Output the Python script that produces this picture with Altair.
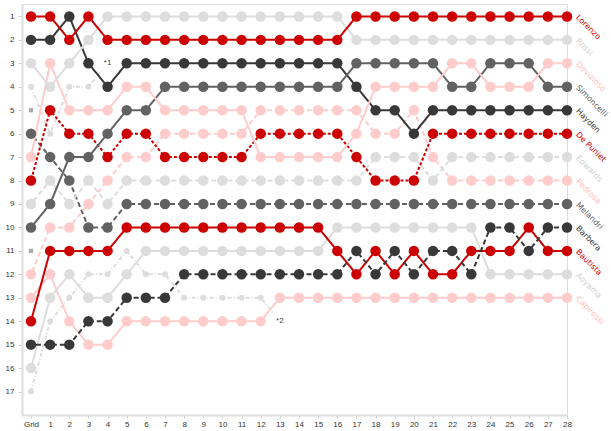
import altair as alt
import pandas as pd

# ---------------- data ----------------
lap_ticks = list(range(0, 29))          # 0 = "Grid"
pos_ticks = list(range(1, 18))

riders = ["Lorenzo", "Rossi", "Dovizioso", "Simoncelli", "Hayden",
          "De Puniet", "Edwards", "Pedrosa", "Melandri", "Barbera",
          "Bautista", "Aoyama", "Capirossi"]

lorenzo    = [1, 1, 2, 1, 2, 2, 2, 2, 2, 2, 2, 2, 2, 2, 2, 2, 2, 1, 1, 1, 1, 1, 1, 1, 1, 1, 1, 1, 1]
rossi      = [3, 4, 3, 2, 1, 1, 1, 1, 1, 1, 1, 1, 1, 1, 1, 1, 1, 2, 2, 2, 2, 2, 2, 2, 2, 2, 2, 2, 2]
dovizioso  = [7, 3, 5, 5, 5, 4, 4, 5, 5, 5, 5, 5, 7, 7, 7, 7, 7, 6, 4, 4, 4, 4, 3, 3, 4, 4, 4, 3, 3]
simoncelli = [10, 9, 7, 7, 6, 5, 5, 4, 4, 4, 4, 4, 4, 4, 4, 4, 4, 3, 3, 3, 3, 3, 4, 4, 3, 3, 3, 4, 4]
hayden     = [2, 2, 1, 3, 4, 3, 3, 3, 3, 3, 3, 3, 3, 3, 3, 3, 3, 4, 5, 5, 6, 5, 5, 5, 5, 5, 5, 5, 5]
depuniet   = [8, 5, 6, 6, 7, 6, 6, 7, 7, 7, 7, 7, 6, 6, 6, 6, 6, 7, 8, 8, 8, 6, 6, 6, 6, 6, 6, 6, 6]
edwards    = [9, 8, 9, 8, 9, 8, 8, 8, 8, 8, 8, 8, 8, 8, 8, 8, 8, 8, 7, 7, 7, 8, 7, 7, 7, 7, 7, 7, 7]
pedrosa    = [12, 10, 10, 9, 8, 7, 7, 6, 6, 6, 6, 6, 5, 5, 5, 5, 5, 5, 6, 6, 5, 7, 8, 8, 8, 8, 8, 8, 8]
melandri   = [6, 7, 8, 10, 10, 9, 9, 9, 9, 9, 9, 9, 9, 9, 9, 9, 9, 9, 9, 9, 9, 9, 9, 9, 9, 9, 9, 9, 9]
barbera    = [15, 15, 15, 14, 14, 13, 13, 13, 12, 12, 12, 12, 12, 12, 12, 12, 12, 11, 12, 11, 12, 11, 11, 12, 10, 10, 11, 10, 10]
bautista   = [14, 11, 11, 11, 11, 10, 10, 10, 10, 10, 10, 10, 10, 10, 10, 10, 11, 12, 11, 12, 11, 12, 12, 11, 11, 11, 10, 11, 11]
aoyama     = [16, 13, 12, 13, 13, 12, 11, 11, 11, 11, 11, 11, 11, 11, 11, 11, 10, 10, 10, 10, 10, 10, 10, 10, 12, 12, 12, 12, 12]
capirossi  = [13, 12, 14, 15, 15, 14, 14, 14, 14, 14, 14, 14, 14, 13, 13, 13, 13, 13, 13, 13, 13, 13, 13, 13, 13, 13, 13, 13, 13]

series = [lorenzo, rossi, dovizioso, simoncelli, hayden, depuniet, edwards,
          pedrosa, melandri, barbera, bautista, aoyama, capirossi]

# retired riders (laps from Grid) and the slot marked with a note
dnf_names = ["DNF1", "DNF2"]
dnf1 = [4, 6, 4, 4]
dnf2 = [17, 14, 13, 12, 12, 11, 12, 12, 13, 13, 13, 13, 13]
dnf_series = [dnf1, dnf2]
note_text = ["*1", "*2"]
note_lap = [4, 13]
note_pos = [3, 14]

# non starters (grid slot only)
dns_pos = [5, 11]

RED, LGRAY, PINK, MGRAY, DGRAY = "#cc0000", "#dddddd", "#ffcccc", "#626262", "#383838"
rider_colors = [RED, LGRAY, PINK, MGRAY, DGRAY, RED, LGRAY, PINK, MGRAY, DGRAY, RED, LGRAY, PINK]
label_colors = [RED, "#cfcfcf", "#ffbdbd", MGRAY, DGRAY, RED, "#cfcfcf", "#ffbdbd", MGRAY, DGRAY, RED, "#cfcfcf", "#ffbdbd"]
SOLID, DOT, DASH, DNFDASH = [1, 0], [3, 2], [5, 3], [4, 2, 1, 2]
rider_dash = [SOLID] * 5 + [DOT, DASH, DASH, DASH, DASH] + [SOLID] * 3

# ---------------- tables ----------------
pt_rows = []
for name, vals in zip(riders, series):
    for lap, p in enumerate(vals):
        pt_rows.append({"rider": name, "lap": lap, "pos": p})
pts = pd.DataFrame(pt_rows)

dnf_rows = []
for name, vals in zip(dnf_names, dnf_series):
    for lap, p in enumerate(vals):
        dnf_rows.append({"rider": name, "lap": lap, "pos": p})
dnf_pts = pd.DataFrame(dnf_rows)

line_rows = list(reversed(pt_rows))
for name, vals, nl, npos in zip(dnf_names, dnf_series, note_lap, note_pos):
    last_lap = len(vals) - 1
    ext = {"rider": name, "lap": last_lap + 0.7 * (nl - last_lap),
           "pos": vals[-1] + 0.7 * (npos - vals[-1])}
    line_rows = [{"rider": name, "lap": l, "pos": p} for l, p in enumerate(vals)] + [ext] + line_rows
lines = pd.DataFrame(line_rows)
lines["ord"] = range(len(lines))

notes = pd.DataFrame({"text": note_text, "lap": note_lap, "pos": note_pos})
dns = pd.DataFrame({"lap": [0] * len(dns_pos), "pos": dns_pos})
ends = pd.DataFrame({"rider": riders, "lap": [28] * len(riders),
                     "pos": [s[-1] for s in series], "col": label_colors})

all_names = riders + dnf_names
color_scale = alt.Scale(domain=all_names, range=rider_colors + [LGRAY, LGRAY])
dash_scale = alt.Scale(domain=all_names, range=rider_dash + [DNFDASH, DNFDASH])

xs = alt.Scale(domain=[-0.47, 28], nice=False, zero=False)
ys = alt.Scale(domain=[0.47, 18], reverse=True, nice=False, zero=False)

x_axis = alt.Axis(values=lap_ticks, grid=False, labelOverlap=False,
                  labelExpr="datum.value == 0 ? 'Grid' : datum.value",
                  labelFont="Liberation Sans", labelFontSize=8, labelColor="#333333",
                  domainColor="#dddddd", domainWidth=2, tickColor="#cccccc",
                  tickSize=3, labelPadding=2, labelFlush=False)
y_axis = alt.Axis(values=pos_ticks, grid=False, format="d", labelOverlap=False,
                  labelFont="Liberation Sans", labelFontSize=8, labelColor="#333333",
                  domainColor="#dddddd", domainWidth=2, tickColor="#cccccc",
                  tickSize=4, labelPadding=4)


def X():
    return alt.X("lap:Q", scale=xs, title=None, axis=x_axis)


def Y():
    return alt.Y("pos:Q", scale=ys, title=None, axis=y_axis)


line_layer = alt.Chart(lines).mark_line(strokeWidth=2).encode(
    x=X(), y=Y(),
    color=alt.Color("rider:N", scale=color_scale, legend=None),
    strokeDash=alt.StrokeDash("rider:N", scale=dash_scale, legend=None),
    detail="rider:N",
    order="ord:Q",
)

dot_layer = alt.Chart(pts).mark_circle(size=110, opacity=1).encode(
    x=X(), y=Y(),
    color=alt.Color("rider:N", scale=color_scale, legend=None),
)

dnf_dot_layer = alt.Chart(dnf_pts).mark_circle(size=36, opacity=1, color=LGRAY).encode(
    x=X(), y=Y(),
)

dns_layer = alt.Chart(dns).mark_square(size=18, color="#aaaaaa", opacity=1).encode(
    x=X(), y=Y(),
)

note_layer = alt.Chart(notes).mark_text(font="Liberation Sans", fontSize=8, color="#444444").encode(
    x=X(), y=Y(), text="text:N",
)

label_layer = alt.Chart(ends).mark_text(
    align="left", baseline="middle", angle=45, dx=7, dy=-7,
    font="DejaVu Sans", fontSize=8,
).encode(
    x=X(), y=Y(), text="rider:N",
    color=alt.Color("col:N", scale=None),
)

chart = alt.layer(line_layer, dot_layer, dnf_dot_layer, dns_layer, note_layer, label_layer).properties(
    width=545, height=411,
    autosize=alt.AutoSizeParams(type="none"),
    padding={"left": 22, "top": 4, "right": 44, "bottom": 16},
).configure_view(stroke=None, fill="#f8f8f8").configure(background="white")

chart.save("out.html", embed_options={"renderer": "svg", "actions": False})
